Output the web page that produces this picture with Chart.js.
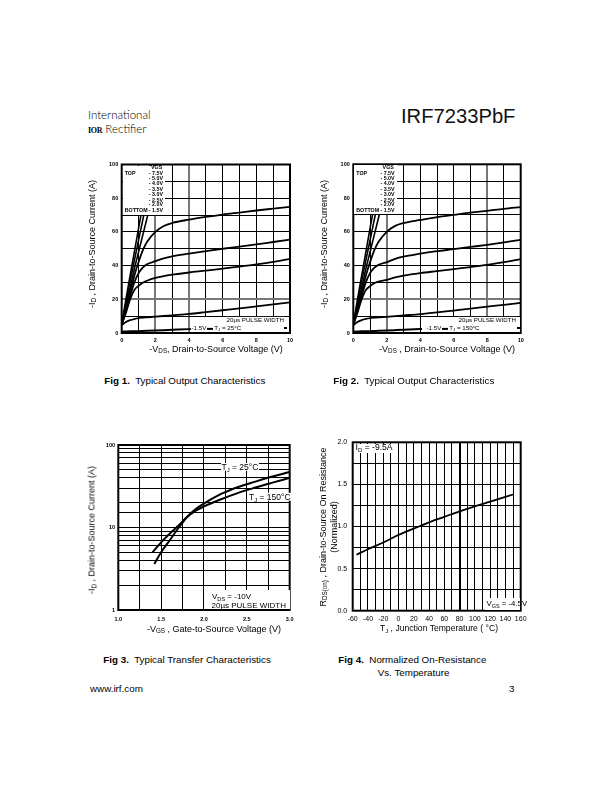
<!DOCTYPE html>
<html><head><meta charset="utf-8">
<script src="https://cdn.jsdelivr.net/npm/chart.js@4.4.0/dist/chart.umd.min.js"></script>
<style>
html,body{margin:0;padding:0;background:#fff;}
#page{position:relative;width:612px;height:792px;overflow:hidden;font-family:"Liberation Sans",Arial,Helvetica,sans-serif;color:#000;}
canvas{position:absolute;}
.t{position:absolute;white-space:nowrap;line-height:1;}
.lc{transform:translateY(-50%);}
.cc{transform:translate(-50%,-50%);}
.rc{transform:translate(-100%,-50%);}
.rot{transform:translate(-50%,-50%) rotate(-90deg);}
sub{font-size:70%;vertical-align:-0.3em;line-height:0;}
.wb{background:#fff;}
.box{position:absolute;background:#fff;}
.bar{display:inline-block;width:6px;height:1.3px;background:#000;vertical-align:0;margin:0 1px;}
.lg{position:absolute;font-weight:bold;font-size:5.3px;line-height:1;white-space:nowrap;transform:translateY(-50%);}
</style></head>
<body>
<div id="page">
  <!-- header -->
  <div class="t lc" style="left:88px;top:115px;font-family:Lato,'Noto Sans',sans-serif;font-weight:300;font-size:11.5px;">International</div>
  <div class="t lc" style="left:88px;top:128.5px;font-size:11.5px;"><span style="font-family:'Liberation Serif',serif;font-weight:bold;font-size:8px;letter-spacing:-0.3px;">IOR</span><span style="font-family:Lato,'Noto Sans',sans-serif;font-weight:300;"> Rectifier</span></div>
  <div class="t lc" style="left:401px;top:115.5px;font-size:20.2px;color:#111;">IRF7233PbF</div>

  <!-- chart canvases -->
  <canvas id="c1" width="205" height="200" style="left:95px;top:150px"></canvas>
  <canvas id="c2" width="204" height="200" style="left:327px;top:150px"></canvas>
  <canvas id="c3" width="205" height="195" style="left:95px;top:430px"></canvas>
  <canvas id="c4" width="204" height="195" style="left:327px;top:428px"></canvas>

  <!-- Fig 1 texts -->
  <div class="t rot" style="left:92px;top:244px;font-size:9px;">-I<sub>D</sub> , Drain-to-Source Current (A)</div>
  <div class="t cc" style="left:216px;top:348.5px;font-size:9px;">-V<sub>DS</sub>, Drain-to-Source Voltage (V)</div>
  <div class="box" style="left:122.7px;top:165.5px;width:42.5px;height:49px;"></div>
  <div id="lg1"></div>
  <div class="box" style="left:191px;top:317px;width:98px;height:15px;"></div>
  <div class="t lc wb" style="left:225.5px;top:319.5px;font-size:6.2px;padding:0 1px;">20µs PULSE WIDTH</div>
  <div class="t lc wb" style="left:191.5px;top:327.7px;font-size:6.2px;">-1.5V<span class="bar"></span>T<sub>J</sub> = 25°C</div>
  <div class="box" style="left:283.5px;top:327px;width:3px;height:1.6px;background:#000;"></div>

  <!-- Fig 2 texts -->
  <div class="t rot" style="left:323.5px;top:244px;font-size:9px;">-I<sub>D</sub> , Drain-to-Source Current (A)</div>
  <div class="t cc" style="left:447px;top:348.5px;font-size:9px;">-V<sub>DS</sub> , Drain-to-Source Voltage (V)</div>
  <div class="box" style="left:354.3px;top:165.3px;width:42.5px;height:49px;"></div>
  <div id="lg2"></div>
  <div class="box" style="left:422px;top:317px;width:98px;height:15px;"></div>
  <div class="t lc wb" style="left:457.5px;top:319.5px;font-size:6.2px;padding:0 1px;">20µs PULSE WIDTH</div>
  <div class="t lc wb" style="left:426.5px;top:327.7px;font-size:6.2px;">-1.5V<span class="bar"></span>T<sub>J</sub> = 150°C</div>
  <div class="box" style="left:516.5px;top:327px;width:3px;height:1.6px;background:#000;"></div>

  <!-- Fig 3 texts -->
  <div class="t rot" style="left:92px;top:530px;font-size:9px;">-I<sub>D</sub> , Drain-to-Source Current (A)</div>
  <div class="t cc" style="left:214px;top:628.5px;font-size:9px;">-V<sub>GS</sub> , Gate-to-Source Voltage (V)</div>
  <div class="t lc wb" style="left:220.5px;top:466.7px;font-size:8.5px;padding:0 1px;">T<sub>J</sub> = 25°C</div>
  <div class="t lc wb" style="left:248px;top:496.7px;font-size:8.5px;padding:0 1px;">T<sub>J</sub> = 150°C</div>
  <div class="box" style="left:209px;top:589.5px;width:80.5px;height:19.5px;"></div>
  <div class="t lc" style="left:212px;top:596.8px;font-size:8px;">V<sub>DS</sub> = -10V</div>
  <div class="t lc" style="left:211.5px;top:605.5px;font-size:8px;">20µs PULSE WIDTH</div>

  <!-- Fig 4 texts -->
  <div class="t rot" style="left:323px;top:527px;font-size:9px;">R<sub>DS(on)</sub> , Drain-to-Source On Resistance</div>
  <div class="t rot" style="left:333.5px;top:527px;font-size:9px;">(Normalized)</div>
  <div class="t cc" style="left:439px;top:628px;font-size:8.6px;">T<sub>J</sub> , Junction Temperature ( °C)</div>
  <div class="box" style="left:353.8px;top:443.5px;width:40px;height:9.5px;"></div>
  <div class="t lc" style="left:355.5px;top:447.3px;font-size:8.6px;">I<sub>D</sub> = -9.5A</div>
  <div class="box" style="left:485px;top:597.5px;width:34.5px;height:12px;"></div>
  <div class="t lc" style="left:486.5px;top:603.5px;font-size:7.8px;">V<sub>GS</sub> = -4.5V</div>

  <!-- captions -->
  <div class="t lc" style="left:104.3px;top:380.7px;font-size:9.8px;"><b>Fig 1.</b>&nbsp; Typical Output Characteristics</div>
  <div class="t lc" style="left:333.3px;top:380.7px;font-size:9.8px;"><b>Fig 2.</b>&nbsp; Typical Output Characteristics</div>
  <div class="t lc" style="left:103.3px;top:660px;font-size:9.8px;"><b>Fig 3.</b>&nbsp; Typical Transfer Characteristics</div>
  <div class="t lc" style="left:338.3px;top:660px;font-size:9.8px;"><b>Fig 4.</b>&nbsp; Normalized On-Resistance</div>
  <div class="t lc" style="left:377.7px;top:673.3px;font-size:9.8px;">Vs. Temperature</div>
  <div class="t lc" style="left:90px;top:689.3px;font-size:9.8px;">www.irf.com</div>
  <div class="t rc" style="left:514.5px;top:689.3px;font-size:9.8px;">3</div>
</div>

<script>
// ---------- DATA ----------
const vgsLabels = ['-7.5V','-5.0V','-4.0V','-3.5V','-3.0V','-2.5V','-2.0V','-1.5V'];

// Fig 1 : Typical output characteristics, TJ = 25°C
const fig1Vds    = [0, 0.25, 0.5, 0.75, 1, 1.25, 1.5, 2, 2.5, 3, 4, 5, 6, 7, 8, 9, 10];
const fig1Id_7V5 = [5, 20, 34, 48, 62, 76, 90, 118, null, null, null, null, null, null, null, null, null];
const fig1Id_5V0 = [5, 18, 31, 43, 55, 67, 79, 102, null, null, null, null, null, null, null, null, null];
const fig1Id_4V0 = [5, 16, 27, 38, 48, 58, 68, 88, 108, null, null, null, null, null, null, null, null];
const fig1Id_3V5 = [5, 14, 24, 34, 42, 49, 54, 60, 63.5, 65.3, 67.3, 68.9, 70.3, 71.5, 72.7, 73.8, 74.9];
const fig1Id_3V0 = [5, 13, 22, 30, 35.5, 38.8, 40.8, 42.6, 44.3, 45.5, 47.1, 48.6, 50, 51.3, 52.6, 54, 55.4];
const fig1Id_2V5 = [5, 12, 20, 25.5, 28, 29.8, 31, 32.7, 33.8, 34.6, 35.9, 37, 38.2, 39.4, 40.7, 42.2, 44];
const fig1Id_2V0 = [4.6, 6.5, 7.6, 8.3, 8.8, 9.1, 9.3, 9.7, 10.1, 10.5, 11.3, 12.4, 13.5, 14.6, 15.8, 17, 18.2];
const fig1Id_1V5 = [0.8, 0.9, 1.0, 1.05, 1.1, 1.2, 1.3, 1.5, 1.7, 1.9, 2.3, 2.6, 2.9, 3.2, 3.5, 3.8, 4.1];

// Fig 2 : Typical output characteristics, TJ = 150°C
const fig2Vds    = [0, 0.25, 0.5, 0.75, 1, 1.25, 1.5, 2, 2.5, 3, 4, 5, 6, 7, 8, 9, 10];
const fig2Id_7V5 = [5, 20, 34, 48, 62, 76, 90, 118, null, null, null, null, null, null, null, null, null];
const fig2Id_5V0 = [5, 18, 31, 43, 55, 67, 79, 102, null, null, null, null, null, null, null, null, null];
const fig2Id_4V0 = [5, 16, 27, 38, 48, 58, 68, 88, 108, null, null, null, null, null, null, null, null];
const fig2Id_3V5 = [5, 14, 24, 34, 42, 49, 54, 60, 63.5, 65.2, 67, 68.7, 70, 71.3, 72.4, 73.6, 74.6];
const fig2Id_3V0 = [5, 13, 22, 30, 35.5, 38.6, 40.4, 42, 44, 45.3, 47, 48.5, 49.7, 51, 52.3, 53.7, 55.2];
const fig2Id_2V5 = [5, 12, 20, 25.5, 27.8, 29.5, 30.5, 31.5, 33, 34, 35.5, 36.7, 37.9, 39.1, 40.4, 42, 43.8];
const fig2Id_2V0 = [4.6, 6.5, 7.6, 8.3, 8.8, 9.1, 9.3, 9.6, 10, 10.4, 11.2, 12.2, 13.3, 14.4, 15.6, 16.7, 17.8];
const fig2Id_1V5 = [0.8, 0.9, 1.0, 1.05, 1.1, 1.2, 1.3, 1.5, 1.7, 1.9, 2.3, 2.6, 2.9, 3.2, 3.5, 3.8, 4.1];

// Fig 3 : Typical transfer characteristics
const fig3Vgs25  = [1.42, 1.5, 1.6, 1.7, 1.8, 1.9, 2.0, 2.2, 2.4, 2.6, 2.8, 3.0];
const fig3Id25   = [3.6, 5.0, 7.0, 9.8, 13.3, 16.6, 19.5, 25.5, 31, 36, 41.5, 47];
const fig3Vgs150 = [1.4, 1.5, 1.6, 1.7, 1.8, 1.9, 2.0, 2.2, 2.4, 2.6, 2.8, 3.0];
const fig3Id150  = [5.0, 6.6, 8.4, 10.5, 13.3, 15.9, 18, 22, 26.3, 30.5, 35, 40];

// Fig 4 : Normalized on-resistance vs temperature
const fig4Tj  = [-55, -40, -20, 0, 20, 40, 60, 80, 100, 120, 150];
const fig4Rds = [0.665, 0.73, 0.81, 0.90, 0.975, 1.05, 1.115, 1.18, 1.24, 1.295, 1.38];

// Tick labels
const fig12XTicks = [0, 2, 4, 6, 8, 10];
const fig12YTicks = [0, 20, 40, 60, 80, 100];
const fig3XTicks  = [1.0, 1.5, 2.0, 2.5, 3.0];
const fig3YTicks  = [1, 10, 100];
const fig4XTicks  = [-60, -40, -20, 0, 20, 40, 60, 80, 100, 120, 140, 160];
const fig4YTicks  = [0.0, 0.5, 1.0, 1.5, 2.0];

// ---------- helpers ----------
const FONT = '"Liberation Sans", Arial, Helvetica, sans-serif';
function series(xs, ys, w) {
  return { data: xs.map((x, i) => ({ x: x, y: ys[i] })), borderColor: '#000', borderWidth: w,
           pointRadius: 0, fill: false, cubicInterpolationMode: 'monotone', spanGaps: false };
}
function axis(o) {
  const isThick = ctx => o.thick && ctx.tick && o.thick.some(t => Math.abs(t - ctx.tick.value) < 1e-9);
  const a = {
    type: o.type || 'linear', min: o.min, max: o.max,
    grid: { color: ctx => isThick(ctx) ? (o.thickColor || '#000') : '#000',
            lineWidth: ctx => isThick(ctx) ? 2 : 1, drawTicks: false },
    border: { display: false },
    ticks: { autoSkip: false, maxRotation: 0, minRotation: 0, padding: o.pad, color: '#000',
             font: { family: FONT, size: o.fs, weight: o.fw || 'normal' },
             callback: v => { const i = o.labels.findIndex(t => Math.abs(t - v) < 1e-9); return i >= 0 ? o.fmt(o.labels[i]) : ''; } }
  };
  if (o.step) { a.ticks.stepSize = o.step; a.ticks.maxTicksLimit = 100; }
  if (o.h != null) a.afterFit = s => { s.height = o.h; };
  if (o.w != null) a.afterFit = s => { s.width = o.w; };
  return a;
}
const framePlugin = { id: 'frame', afterDatasetsDraw(chart) {
  const { ctx, chartArea: a } = chart; ctx.save(); ctx.strokeStyle = '#000'; ctx.lineWidth = 2;
  ctx.strokeRect(a.left, a.top, a.right - a.left, a.bottom - a.top); ctx.restore(); } };
function make(id, datasets, xAxis, yAxis, pad) {
  return new Chart(document.getElementById(id), {
    type: 'line', data: { datasets },
    options: { responsive: false, animation: false, devicePixelRatio: 1,
      layout: { padding: pad },
      plugins: { legend: { display: false }, tooltip: { enabled: false } },
      scales: { x: xAxis, y: yAxis } },
    plugins: [framePlugin]
  });
}
const int = v => String(v), one = v => v.toFixed(1);

// ---------- Fig 1 ----------
make('c1', [
  series(fig1Vds, fig1Id_7V5, 1.6), series(fig1Vds, fig1Id_5V0, 1.6), series(fig1Vds, fig1Id_4V0, 1.6),
  series(fig1Vds, fig1Id_3V5, 1.8), series(fig1Vds, fig1Id_3V0, 1.8), series(fig1Vds, fig1Id_2V5, 1.8),
  series(fig1Vds, fig1Id_2V0, 1.8), series(fig1Vds, fig1Id_1V5, 2)
], axis({ min: 0, max: 10, step: 1, labels: fig12XTicks, fmt: int, fs: 5.5, fw: 'bold', pad: 4.5, h: 17, thick: [2, 4], thickColor: '#777' }),
   axis({ min: 0, max: 100, step: 10, labels: fig12YTicks, fmt: int, fs: 5.5, fw: 'bold', pad: 3.5, w: 26.7, thick: [20], thickColor: '#777' }),
   { left: 0, top: 14.5, right: 10, bottom: 0 });

// ---------- Fig 2 ----------
make('c2', [
  series(fig2Vds, fig2Id_7V5, 1.6), series(fig2Vds, fig2Id_5V0, 1.6), series(fig2Vds, fig2Id_4V0, 1.6),
  series(fig2Vds, fig2Id_3V5, 1.8), series(fig2Vds, fig2Id_3V0, 1.8), series(fig2Vds, fig2Id_2V5, 1.8),
  series(fig2Vds, fig2Id_2V0, 1.8), series(fig2Vds, fig2Id_1V5, 2)
], axis({ min: 0, max: 10, step: 1, labels: fig12XTicks, fmt: int, fs: 5.5, fw: 'bold', pad: 4.5, h: 17, thick: [2, 8], thickColor: '#777' }),
   axis({ min: 0, max: 100, step: 10, labels: fig12YTicks, fmt: int, fs: 5.5, fw: 'bold', pad: 3.5, w: 26.3, thick: [20], thickColor: '#777' }),
   { left: 0, top: 14.3, right: 10.3, bottom: 0 });

// ---------- Fig 3 ----------
make('c3', [ series(fig3Vgs25, fig3Id25, 2), series(fig3Vgs150, fig3Id150, 2) ],
   axis({ min: 1, max: 3, step: 0.25, labels: fig3XTicks, fmt: one, fs: 5.5, fw: 'bold', pad: 6.5, h: 15 }),
   axis({ type: 'logarithmic', min: 1, max: 100, labels: fig3YTicks, fmt: int, fs: 5.5, fw: 'bold', pad: 3.3, w: 23.3 }),
   { left: 0, top: 15, right: 9.3, bottom: 0 });

// ---------- Fig 4 ----------
make('c4', [ series(fig4Tj, fig4Rds, 1.8) ],
   axis({ min: -60, max: 160, step: 10, labels: fig4XTicks, fmt: int, fs: 7, pad: 4, h: 12.3, thick: [80] }),
   axis({ min: 0, max: 2, step: 0.25, labels: fig4YTicks, fmt: one, fs: 7, pad: 5.5, w: 25.7 }),
   { left: 0, top: 14.3, right: 10.3, bottom: 0 });

// ---------- VGS legends (text) ----------
const lgRowsY = [174, 179, 184, 190, 194.7, 200.7, 205.3, 211];
function buildLegend(hostId, dx, dy) {
  const host = document.getElementById(hostId);
  let html = '<div class="lg" style="left:' + (151 + dx) + 'px;top:' + (168.2 + dy) + 'px">VGS</div>';
  html += '<div class="lg" style="left:' + (124.7 + dx) + 'px;top:' + (lgRowsY[0] + dy) + 'px">TOP</div>';
  html += '<div class="lg" style="left:' + (124.7 + dx) + 'px;top:' + (lgRowsY[7] + dy) + 'px">BOTTOM</div>';
  vgsLabels.forEach((lab, i) => {
    html += '<div class="lg" style="left:' + (163 + dx) + 'px;top:' + (lgRowsY[i] + dy) + 'px;transform:translate(-100%,-50%)">' + lab.replace('-', '- ') + '</div>';
  });
  host.innerHTML = html;
}
buildLegend('lg1', 0, 0);
buildLegend('lg2', 231.6, -0.2);
</script>
</body></html>
